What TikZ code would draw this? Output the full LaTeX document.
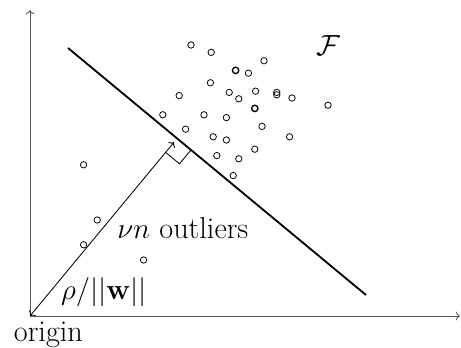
\documentclass[tikz,border=0pt]{standalone}
\usetikzlibrary{arrows.meta,calc}

\begin{document}
\begin{tikzpicture}[>=To, font=\fontsize{21.5}{26}\selectfont,
  pt/.style={circle, draw, inner sep=0pt, minimum size=0.16cm, line width=0.55pt},
  ptb/.style={pt, line width=0.95pt},
  axis/.style={->, black!65, line width=0.65pt}]
\useasboundingbox (-0.75,-0.8) rectangle (10.775,7.9);
% axes
\coordinate (O) at (0,0);
\coordinate (xend) at (10.75,0);
\coordinate (yend) at (0,7.65);
\draw[axis] (O) -- (xend);
\draw[axis] (O) -- (yend);
% separating hyperplane
\coordinate (h1) at (0.95,6.7);
\coordinate (h2) at (8.4,0.525);
\draw[line width=1.3pt] (h1) -- (h2);
% normal from origin + right angle mark
\coordinate (foot) at ($(h1)!(O)!(h2)$);
\coordinate (tip) at ($(foot)!0.12cm!(O)$);
\draw[<->, line width=0.6pt] (O) -- (tip);
\coordinate (ra1) at ($(foot)!0.45cm!(O)$);
\coordinate (ra2) at ($(foot)!0.45cm!(h2)$);
\draw[line width=0.6pt] (ra1) -- ($(ra1)+(ra2)-(foot)$) -- (ra2);
% data points
\foreach \x/\y [count=\i] in {4.025/6.775, 4.53/6.59, 5.85/6.38, 5.46/6.07,
    4.51/5.83, 4.98/5.59, 5.64/5.62, 6.17/5.59, 6.17/5.53, 5.22/5.43,
    6.55/5.45, 3.73/5.51, 7.45/5.27, 3.32/5.03, 4.35/5.03, 4.91/4.96,
    5.8/4.74, 3.89/4.67, 4.58/4.48, 4.91/4.4, 6.49/4.48, 5.62/4.17,
    4.67/4.01, 5.22/3.93, 5.08/3.51, 1.34/3.78, 1.68/2.4, 1.34/1.78, 2.84/1.4}
  \node[pt] (p\i) at (\x,\y) {};
\node[ptb] (q1) at (5.14,6.14) {};
\node[ptb] (q2) at (5.62,5.19) {};
% labels
\node[anchor=base] (F) at (7.47,6.5) {$\mathcal{F}$};
\node[anchor=base] (outl) at (3.82,1.94) {$\nu n$ outliers};
\node[anchor=base] (dist) at (1.85,0.4) {$\rho/||\mathbf{w}||$};
\node[anchor=base] (orig) at (0.46,-0.64) {origin};
\end{tikzpicture}
\end{document}
